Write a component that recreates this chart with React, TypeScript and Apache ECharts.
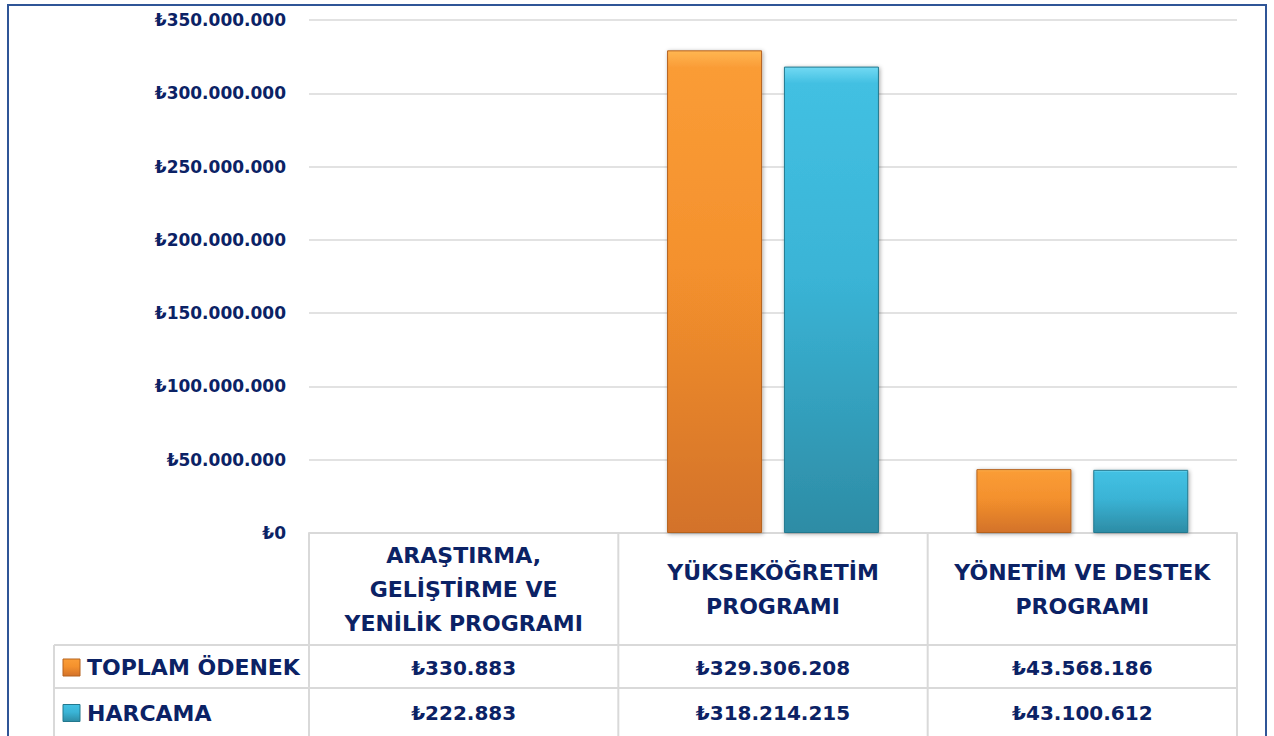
import React, { useEffect, useRef } from "react";
import * as echarts from "echarts";

const categories = [
  "ARAŞTIRMA,\nGELİŞTİRME VE\nYENİLİK PROGRAMI",
  "YÜKSEKÖĞRETİM\nPROGRAMI",
  "YÖNETİM VE DESTEK\nPROGRAMI",
];
const seriesNames = ["TOPLAM ÖDENEK", "HARCAMA"];
const toplamOdenek = [330883, 329306208, 43568186];
const harcama = [222883, 318214215, 43100612];
const yMin = 0;
const yMax = 350000000;
const yInterval = 50000000;

const NAVY = "#0B2265";
const GRIDC = "#D9D9D9";
const FONT = "'DejaVu Sans', 'Noto Sans', sans-serif";

const fmt = (n: number) =>
  "₺" + String(Math.round(n)).replace(/\B(?=(\d{3})+(?!\d))/g, ".");

const orangeGrad = () =>
  new echarts.graphic.LinearGradient(0, 0, 0, 1, [
    { offset: 0, color: "#FFB652" },
    { offset: 0.035, color: "#FA9C36" },
    { offset: 0.45, color: "#F4912D" },
    { offset: 1, color: "#D3722A" },
  ]);
const blueGrad = () =>
  new echarts.graphic.LinearGradient(0, 0, 0, 1, [
    { offset: 0, color: "#72D9F3" },
    { offset: 0.035, color: "#42C0E2" },
    { offset: 0.45, color: "#3AB4D6" },
    { offset: 1, color: "#2D8CA5" },
  ]);

export default function App() {
  const ref = useRef<HTMLDivElement>(null);
  useEffect(() => {
    if (!ref.current) return;
    const chart = echarts.init(ref.current, undefined, { renderer: "svg" });
    const seriesData = [toplamOdenek, harcama];
    const grads = [orangeGrad, blueGrad];
    const borders = ["#B5621F", "#23788E"];
    chart.setOption({
      animation: false,
      backgroundColor: "#FFFFFF",
      grid: { left: 309, right: 37, top: 20, bottom: 203, containLabel: false },
      xAxis: {
        type: "category",
        data: categories,
        axisLine: { show: true, lineStyle: { color: GRIDC, width: 2 } },
        axisTick: { show: false },
        axisLabel: {
          interval: 0,
          margin: 56,
          verticalAlign: "middle",
          align: "center",
          fontSize: 22,
          lineHeight: 34,
          fontWeight: "bold",
          fontFamily: FONT,
          color: NAVY,
        },
      },
      yAxis: {
        type: "value",
        min: yMin,
        max: yMax,
        interval: yInterval,
        axisLine: { show: false },
        axisTick: { show: false },
        splitLine: { lineStyle: { color: GRIDC, width: 1.5 } },
        axisLabel: {
          margin: 23,
          fontSize: 17,
          fontWeight: "bold",
          fontFamily: FONT,
          color: NAVY,
          formatter: (v: number) => fmt(v),
        },
      },
      series: seriesNames.map((name, i) => ({
        name,
        type: "bar",
        data: seriesData[i],
        barWidth: 95,
        barGap: "23%",
        itemStyle: {
          color: grads[i](),
          borderColor: borders[i],
          borderWidth: 1,
          shadowBlur: 4,
          shadowColor: "rgba(0,0,0,0.35)",
          shadowOffsetX: 1,
          shadowOffsetY: 1,
        },
      })),
    });

    const c0 = chart.convertToPixel({ xAxisIndex: 0 }, 0) as number;
    const c1 = chart.convertToPixel({ xAxisIndex: 0 }, 1) as number;
    const w = c1 - c0;
    const centers = categories.map((_, i) => c0 + i * w);
    const left = c0 - w / 2;
    const right = c0 + (categories.length - 0.5) * w;
    const yTop = chart.convertToPixel({ yAxisIndex: 0 }, 0) as number;
    const row1 = 645;
    const row2 = 688;
    const bottom = 745;
    const legendLeft = 54;
    const rowCenters = [(row1 + row2) / 2 + 1, (row2 + 736) / 2 + 1];

    const lineStyle = { stroke: GRIDC, lineWidth: 2 };
    const els: any[] = [];
    for (let i = 0; i <= categories.length; i++) {
      const x = left + i * w;
      els.push({ type: "line", shape: { x1: x, y1: yTop, x2: x, y2: bottom }, style: lineStyle });
    }
    els.push({ type: "line", shape: { x1: legendLeft, y1: row1, x2: legendLeft, y2: bottom }, style: lineStyle });
    els.push({ type: "line", shape: { x1: legendLeft, y1: row1, x2: right, y2: row1 }, style: lineStyle });
    els.push({ type: "line", shape: { x1: legendLeft, y1: row2, x2: right, y2: row2 }, style: lineStyle });

    seriesNames.forEach((name, r) => {
      const cy = rowCenters[r];
      els.push({
        type: "rect",
        shape: { x: 63, y: cy - 8.5, width: 17, height: 17 },
        style: { fill: grads[r](), stroke: borders[r], lineWidth: 1 },
      });
      els.push({
        type: "text",
        x: 87,
        y: cy,
        style: {
          text: name,
          fill: NAVY,
          font: `bold 22px ${FONT}`,
          textAlign: "left",
          textVerticalAlign: "middle",
        },
      });
      seriesData[r].forEach((v, i) => {
        els.push({
          type: "text",
          x: centers[i],
          y: cy,
          style: {
            text: fmt(v),
            fill: NAVY,
            font: `bold 20px ${FONT}`,
            textAlign: "center",
            textVerticalAlign: "middle",
          },
        });
      });
    });

    els.push({
      type: "rect",
      shape: { x: 8, y: 5, width: 1258, height: 745 },
      style: { fill: "none", stroke: "#2F5597", lineWidth: 2 },
      z: 100,
    });

    chart.setOption({ graphic: { elements: els } });
    return () => chart.dispose();
  }, []);
  return (
    <div
      ref={ref}
      style={{ position: "fixed", left: 0, top: 0, width: 1274, height: 736 }}
    />
  );
}
